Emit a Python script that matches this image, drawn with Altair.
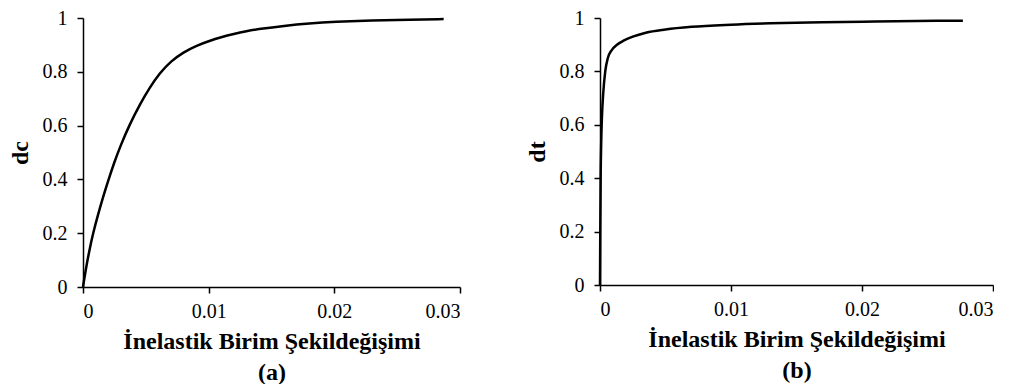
import altair as alt
import pandas as pd

# Panel (a): compression damage dc vs inelastic strain
strain_a = [0, 0.0002, 0.0005, 0.0008, 0.0012, 0.0016, 0.002, 0.0025, 0.003, 0.0037,
            0.0045, 0.0053, 0.0061, 0.007, 0.008, 0.009, 0.010, 0.011, 0.012,
            0.013, 0.014, 0.016, 0.018, 0.020, 0.023, 0.026, 0.0287]
dc = [0, 0.06, 0.135, 0.20, 0.27, 0.335, 0.395, 0.465, 0.527, 0.603,
      0.677, 0.741, 0.795, 0.840, 0.873, 0.897, 0.914, 0.929, 0.941,
      0.951, 0.959, 0.971, 0.980, 0.986, 0.991, 0.994, 0.996]

# Panel (b): tension damage dt vs inelastic strain
strain_b = [0, 0.00002, 0.00005, 0.0001, 0.00015, 0.00025, 0.0004, 0.0006, 0.0009,
            0.0013, 0.0018, 0.0025, 0.0035, 0.005, 0.007, 0.010, 0.013, 0.017, 0.021, 0.0277]
dt = [0, 0.2, 0.4, 0.55, 0.63, 0.72, 0.8, 0.85, 0.88,
      0.9, 0.915, 0.93, 0.945, 0.957, 0.967, 0.975, 0.98, 0.984, 0.987, 0.99]

x_ticks = [0, 0.01, 0.02, 0.03]
y_ticks = [0, 0.2, 0.4, 0.6, 0.8, 1]
x_title = "İnelastik Birim Şekildeğişimi"

FONT = "Liberation Serif"


def panel(xs, ys, ytitle, caption, w, h, interp):
    df = pd.DataFrame({"x": xs, "y": ys})
    return alt.Chart(df).mark_line(color="black", strokeWidth=2.5, interpolate=interp).encode(
        x=alt.X("x:Q", scale=alt.Scale(domain=[0, 0.03], nice=False, zero=True),
                axis=alt.Axis(values=x_ticks, labelExpr="'' + datum.value",
                              title=[x_title, caption], titleLineHeight=31,
                              titlePadding=8, labelPadding=8)),
        y=alt.Y("y:Q", scale=alt.Scale(domain=[0, 1], nice=False),
                axis=alt.Axis(values=y_ticks, labelExpr="'' + datum.value",
                              title=ytitle, titlePadding=10, labelPadding=10)),
    ).properties(width=w, height=h)


a = panel(strain_a, dc, "dc", "(a)", 377, 269, "basis")
b = panel(strain_b, dt, "dt", "(b)", 393, 267, "monotone")

chart = alt.hconcat(a, b, spacing=64).properties(
    padding={"left": 0, "top": 0, "right": 0, "bottom": 0},
    background="white",
).configure_view(stroke=None).configure_axis(
    grid=False, domainColor="black", domainWidth=1.5, tickColor="black", tickWidth=1.5,
    tickSize=6, labelFont=FONT, labelFontSize=20, labelColor="black",
    titleFont=FONT, titleFontSize=24, titleFontWeight="bold", titleColor="black",
)

chart.save("out.html", embed_options={"renderer": "svg", "actions": False})
